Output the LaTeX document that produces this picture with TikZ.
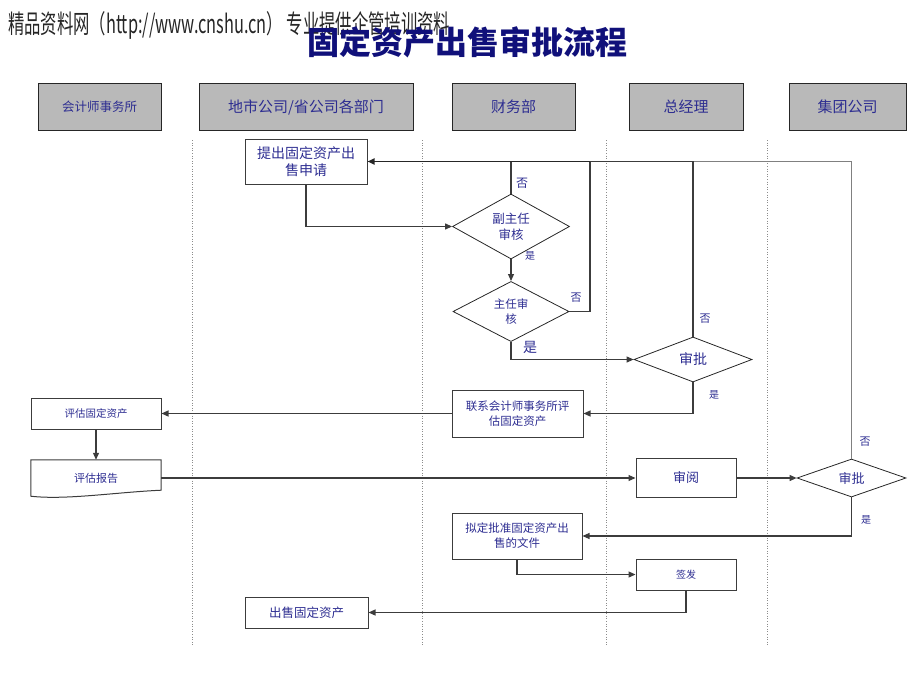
\documentclass[tikz,border=0pt]{standalone}
\usepackage{fontspec}
\setmainfont{Noto Sans CJK SC}
\usetikzlibrary{shapes.geometric}
\usetikzlibrary{arrows,arrows.meta}
\definecolor{kopfgrau}{RGB}{185,185,185}
\definecolor{schrift}{RGB}{45,45,145}
\definecolor{titelblau}{RGB}{16,16,122}
\definecolor{linie}{RGB}{60,60,60}
\colorlet{bahn}{black!45}

\begin{document}
\begin{tikzpicture}[x=1pt, y=-1pt, >={Triangle[length=7pt,width=6pt]},
	kopf/.style={draw=black!85, fill=kopfgrau, line width=1pt, minimum height=46pt, inner sep=0pt, text=schrift, font=\fontsize{15}{17}\selectfont},
	kasten/.style={draw=linie, line width=1pt, inner sep=0pt, align=center, text=schrift},
	raute/.style={diamond, draw=black!85, line width=0.8pt, inner sep=0pt, align=center, text=schrift},
	pfad/.style={draw=linie, line width=1.1pt},
	rueck/.style={draw=black!85, line width=1.8pt},
	lbl/.style={text=schrift, inner sep=0pt}]

	\useasboundingbox (0,0) rectangle (920,690);

	% kopfzeile
	\node[anchor=base west, inner sep=0pt, text=black!85] (wasser) at (8,34) {\resizebox{442pt}{22pt}{\fontsize{24}{24}\selectfont 精品资料网（http://www.cnshu.cn） 专业提供企管培训资料}};
	\node[text=titelblau, font=\fontsize{32}{34}\selectfont\bfseries] (titel) at (467,42) {固定资产出售审批流程};

	% bahnen
	\foreach \xb in {192,422,606,767}
		\draw[bahn, dotted, line width=0.6pt] (\xb,140) -- (\xb,645);

	\node[kopf, minimum width=123pt, font=\fontsize{12.5}{14}\selectfont] (kanzlei) at (99.5,107) {会计师事务所};
	\node[kopf, minimum width=214pt] (abteilung) at (306,107) {地市公司/省公司各部门};
	\node[kopf, minimum width=123pt] (finanz) at (513.5,107) {财务部};
	\node[kopf, minimum width=114pt] (leiter) at (686,107) {总经理};
	\node[kopf, minimum width=117pt] (gruppe) at (847.5,107) {集团公司};

	% knoten
	\node[kasten, minimum width=122pt, minimum height=45pt, font=\fontsize{14}{17}\selectfont] (antrag) at (306,161.5) {提出固定资产出\\售申请};
	\node[raute, minimum width=117pt, minimum height=55pt, font=\fontsize{12.5}{16}\selectfont] (vize) at (511,226.5) {副主任\\审核};
	\node[raute, minimum width=116pt, minimum height=55pt, font=\fontsize{11.5}{15}\selectfont] (chef) at (511,311.5) {主任审\\核};
	\node[raute, minimum width=118pt, minimum height=45pt, font=\fontsize{14}{16}\selectfont] (leiterok) at (693,359.5) {审批};
	\node[kasten, minimum width=131pt, minimum height=47pt, font=\fontsize{11.5}{15}\selectfont] (kontakt) at (517.5,413.5) {联系会计师事务所评\\估固定资产};
	\node[kasten, minimum width=130pt, minimum height=31pt, font=\fontsize{10.5}{12}\selectfont] (bewert) at (96,413.5) {评估固定资产};
	\node[inner sep=0pt, minimum width=130pt, minimum height=36pt, text=schrift, font=\fontsize{11}{13}\selectfont] (bericht) at (96,478) {评估报告};
	\draw[linie, line width=1pt] (bericht.south west) .. controls +(35,4) and +(-45,2) .. ([yshift=6pt]bericht.south east) -- (bericht.north east) -- (bericht.north west) -- cycle;
	\node[kasten, minimum width=100pt, minimum height=39pt, font=\fontsize{13}{15}\selectfont] (pruef) at (686,478) {审阅};
	\node[raute, minimum width=109pt, minimum height=38pt, font=\fontsize{13}{15}\selectfont] (gruppeok) at (851.5,478) {审批};
	\node[kasten, minimum width=130pt, minimum height=46pt, font=\fontsize{11.5}{15}\selectfont] (entwurf) at (517,536) {拟定批准固定资产出\\售的文件};
	\node[kasten, minimum width=100pt, minimum height=31pt, font=\fontsize{10}{12}\selectfont] (signat) at (686,574.5) {签发};
	\node[kasten, minimum width=123pt, minimum height=31pt, font=\fontsize{12.5}{14}\selectfont] (verkauf) at (306.5,612.5) {出售固定资产};
	\coordinate (nein) at (590,161.5);

	% ablauf
	\draw[pfad,->] (antrag.south) |- (vize.west);
	\draw[pfad,->] (vize.south) -- (chef.north);
	\draw[pfad,->] (chef.south) |- (leiterok.west);
	\draw[pfad,->] (leiterok.south) |- (kontakt.east);
	\draw[pfad,->] (kontakt.west) -- (bewert.east);
	\draw[pfad,->] (bewert.south) -- (bericht.north);
	\draw[pfad,->] (bericht.east) -- (pruef.west);
	\draw[pfad,->] (pruef.east) -- (gruppeok.west);
	\draw[pfad,->] (gruppeok.south) |- (entwurf.east);
	\draw[pfad,->] (entwurf.south) |- (signat.west);
	\draw[pfad,->] (signat.south) |- (verkauf.east);

	% zurueck
	\draw[pfad, draw=black!50] (gruppeok.north) |- (leiterok.north |- antrag.east);
	\draw[pfad] (leiterok.north) |- (nein);
	\draw[pfad] (chef.east) -| (nein);
	\draw[pfad] (vize.north) -- (vize.north |- antrag.east);
	\draw[rueck,->] (nein) -- (antrag.east);

	% ja / nein
	\node[lbl, font=\fontsize{12}{12}\selectfont] (n1) at (522,183) {否};
	\node[lbl, font=\fontsize{10}{10}\selectfont] (j1) at (530,256) {是};
	\node[lbl, font=\fontsize{11}{11}\selectfont] (n2) at (576,298) {否};
	\node[lbl, font=\fontsize{14}{14}\selectfont] (j2) at (530,347) {是};
	\node[lbl, font=\fontsize{11}{11}\selectfont] (n3) at (705,319) {否};
	\node[lbl, font=\fontsize{10}{10}\selectfont] (j3) at (714,395) {是};
	\node[lbl, font=\fontsize{11}{11}\selectfont] (n4) at (865,442) {否};
	\node[lbl, font=\fontsize{10}{10}\selectfont] (j4) at (866,520) {是};

\end{tikzpicture}
\end{document}
